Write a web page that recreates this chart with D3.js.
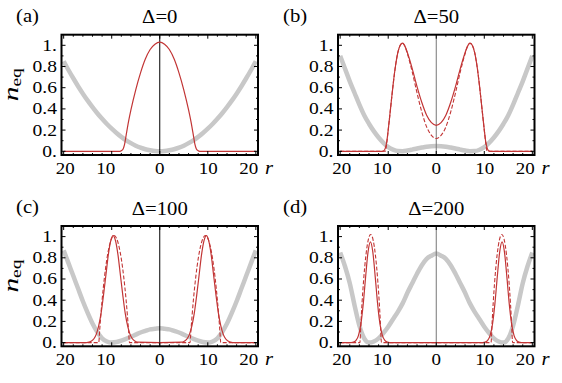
<!DOCTYPE html>
<html>
<head>
<meta charset="utf-8">
<script src="https://cdn.jsdelivr.net/npm/d3@7"></script>
<style>
  body { margin: 0; background: #fff; }
  svg text { font-family: 'Liberation Serif'; }
</style>
</head>
<body>
<div id="chart"></div>
<script>
// radial data, r >= 0 (the figure shows it mirrored about r = 0)
const panelLabels = ["(a)", "(b)", "(c)", "(d)"];
const deltas = [0, 50, 100, 200];
const xTicks = [-20, -10, 0, 10, 20];
const yTicks = [0, 0.2, 0.4, 0.6, 0.8, 1.0];

// grey curve (potential), one list per panel
const rGray = [0,1,2,3,4,5,6,7,8,9,10,11,12,13,14,15,16,17,18,19,20];
const grayA = [0,0.002,0.009,0.019,0.034,0.053,0.077,0.104,0.136,0.172,0.213,0.257,0.306,0.359,0.417,0.478,0.544,0.614,0.689,0.767,0.85];
const grayB = [0.05,0.048,0.043,0.035,0.026,0.016,0.007,0.001,0.002,0.015,0.04,0.08,0.13,0.19,0.26,0.34,0.44,0.55,0.66,0.78,0.9];
const grayC = [0.135,0.13,0.125,0.11,0.095,0.075,0.055,0.035,0.018,0.005,0,0.01,0.04,0.1,0.18,0.28,0.39,0.51,0.63,0.75,0.87];
const grayD = [0.84,0.82,0.79,0.73,0.65,0.56,0.47,0.37,0.29,0.22,0.15,0.09,0.04,0.01,0,0.04,0.16,0.35,0.56,0.72,0.85];

// red solid curves
const rSolidA = [0,1,2,3,4,5,6,6.5,7,7.3,7.6,8,8.3,20];
const solidA  = [1.03,1.01,0.96,0.87,0.74,0.58,0.39,0.28,0.15,0.07,0.025,0.005,0,0];
const rSolidB = [0,1,2,3,4,5,6,6.5,7,7.5,8,8.5,9,9.5,10,10.3,10.6,10.9,11.2,20];
const solidB  = [0.245,0.27,0.34,0.46,0.61,0.78,0.93,0.99,1.02,1.0,0.93,0.8,0.62,0.41,0.2,0.09,0.03,0.005,0,0];
const rSolidC = [0,4.7,5.2,5.7,6.2,6.7,7.2,7.7,8.2,8.7,9.2,9.7,10.2,10.7,11.2,11.7,12.2,12.7,13.2,13.7,14.2,14.7,15.2,20];
const solidC  = [0,0.004,0.014,0.036,0.08,0.16,0.28,0.45,0.64,0.83,0.96,1.01,0.96,0.83,0.64,0.45,0.28,0.16,0.08,0.036,0.014,0.004,0,0];
const rSolidD = [0,9.7,10.2,10.7,11.2,11.7,12.2,12.7,13.2,13.7,14.2,14.7,15.2,15.7,16.2,16.7,17.2,17.7,20];
const solidD  = [0,0,0.005,0.02,0.066,0.172,0.363,0.62,0.854,0.95,0.854,0.62,0.363,0.172,0.066,0.02,0.005,0,0];

// red dashed curves (none in panel a)
const rDashB = [0,1,2,3,4,5,6,6.5,7,7.5,8,8.5,9,9.5,10,10.3,10.6,20];
const dashB  = [0.12,0.15,0.23,0.37,0.55,0.75,0.92,0.99,1.02,1.0,0.93,0.8,0.62,0.41,0.2,0.08,0,0];
const rDashC = [0,6.3,6.5,7,7.5,8,8.5,9,9.5,10,10.5,11,11.5,12,12.3,12.5,12.7,20];
const dashC  = [0,0,0.12,0.40,0.62,0.79,0.91,0.985,1.01,0.985,0.91,0.79,0.62,0.40,0.24,0.12,0,0];
const rDashD = [0,11.4,11.65,11.85,12.15,12.65,13.15,13.65,14.15,14.65,15.15,15.45,15.65,15.9,20];
const dashD  = [0,0,0.21,0.37,0.57,0.82,0.97,1.02,0.97,0.82,0.57,0.37,0.21,0,0];

const grays  = [grayA, grayB, grayC, grayD];
const solids = [[rSolidA, solidA], [rSolidB, solidB], [rSolidC, solidC], [rSolidD, solidD]];
const dashes = [null, [rDashB, dashB], [rDashC, dashC], [rDashD, dashD]];

function mirror(rs, vs) {
  const pts = [];
  for (let i = rs.length - 1; i > 0; i--) pts.push([-rs[i], vs[i]]);
  for (let i = 0; i < rs.length; i++) pts.push([rs[i], vs[i]]);
  return pts;
}

const W = 562, H = 383;
const pw = 196.5, ph = 120.3;
const lefts = [61.5, 338], tops = [34.7, 226];
const labelX = [16, 283];
const xLabelShift = [1.5, -6, 0, 0.5, -7];
const red = "#c23535";

const svg = d3.select("#chart").append("svg")
  .attr("width", W).attr("height", H);

// text in the figure is a little wider than the plain font
function wideText(sel, x, y, size, anchor) {
  return sel.append("text")
    .attr("transform", `translate(${x},${y}) scale(1.15,1)`)
    .attr("font-family", "Liberation Serif")
    .attr("font-size", size).attr("text-anchor", anchor || "start");
}

deltas.forEach((dl, i) => {
  const x0 = lefts[i % 2], y0 = tops[Math.floor(i / 2)];
  const x = d3.scaleLinear().domain([-20.45, 20.45]).range([x0, x0 + pw]);
  const y = d3.scaleLinear().domain([-0.035, 1.1]).range([y0 + ph, y0]);
  const line = d3.line().x(d => x(d[0])).y(d => y(d[1])).curve(d3.curveMonotoneX);
  const g = svg.append("g");

  const clip = "clip" + i;
  g.append("clipPath").attr("id", clip).append("rect")
    .attr("x", x0).attr("y", y0).attr("width", pw).attr("height", ph);
  const plot = g.append("g").attr("clip-path", `url(#${clip})`);

  plot.append("path")
    .attr("d", line(mirror(rGray, grays[i])))
    .attr("fill", "none").attr("stroke", "#c8c8c8").attr("stroke-width", 4.5);

  plot.append("line")
    .attr("x1", x(0)).attr("x2", x(0)).attr("y1", y0).attr("y2", y0 + ph)
    .attr("stroke", i % 2 ? "#777" : "#000").attr("stroke-width", 1);

  if (dashes[i]) {
    plot.append("path")
      .attr("d", line(mirror(dashes[i][0], dashes[i][1])))
      .attr("fill", "none").attr("stroke", red).attr("stroke-width", 1.1)
      .attr("stroke-dasharray", "4,2");
  }
  plot.append("path")
    .attr("d", line(mirror(solids[i][0], solids[i][1])))
    .attr("fill", "none").attr("stroke", red).attr("stroke-width", 1.2);

  // frame ticks, inward
  const tk = g.append("g").attr("stroke", "#000").attr("stroke-width", 1);
  d3.range(-20, 20.1, 2).forEach(v => {
    const L = v % 10 === 0 ? 4 : 2;
    tk.append("line").attr("x1", x(v)).attr("x2", x(v)).attr("y1", y0 + ph).attr("y2", y0 + ph - L);
    tk.append("line").attr("x1", x(v)).attr("x2", x(v)).attr("y1", y0).attr("y2", y0 + L);
  });
  d3.range(0, 1.01, 0.1).forEach((v, k) => {
    const L = k % 2 === 0 ? 4 : 2;
    tk.append("line").attr("y1", y(v)).attr("y2", y(v)).attr("x1", x0).attr("x2", x0 + L);
    tk.append("line").attr("y1", y(v)).attr("y2", y(v)).attr("x1", x0 + pw).attr("x2", x0 + pw - L);
  });

  g.append("rect")
    .attr("x", x0).attr("y", y0).attr("width", pw).attr("height", ph)
    .attr("fill", "none").attr("stroke", "#000").attr("stroke-width", 2);

  // tick labels
  xTicks.forEach((v, k) => {
    wideText(g, x(v) + xLabelShift[k], y0 + ph + 19, 16.5, "middle").text(Math.abs(v));
  });
  yTicks.forEach(v => {
    wideText(g, x0 - 4.5, y(v) + 5.5, 17, "end")
      .text(v === 0 ? "0." : v === 1 ? "1." : d3.format(".1f")(v));
  });

  wideText(g, x0 + pw + 7, y0 + ph + 19, 18).attr("font-style", "italic").text("r");
  wideText(g, x0 + pw / 2, y0 - 11.5, 18, "middle").text("\u0394=" + dl);
  wideText(g, labelX[i % 2], y0 - 13, 18).text(panelLabels[i]);

  if (i % 2 === 0) {
    const t = g.append("text")
      .attr("transform", `translate(18,${y0 + 50}) rotate(-90) scale(1.4,1)`)
      .attr("font-family", "Liberation Serif")
      .attr("text-anchor", "middle").attr("font-size", 21);
    t.append("tspan").attr("font-style", "italic").text("n");
    t.append("tspan").attr("font-size", 14).attr("dy", 3).text("eq");
  }
});
</script>
</body>
</html>
